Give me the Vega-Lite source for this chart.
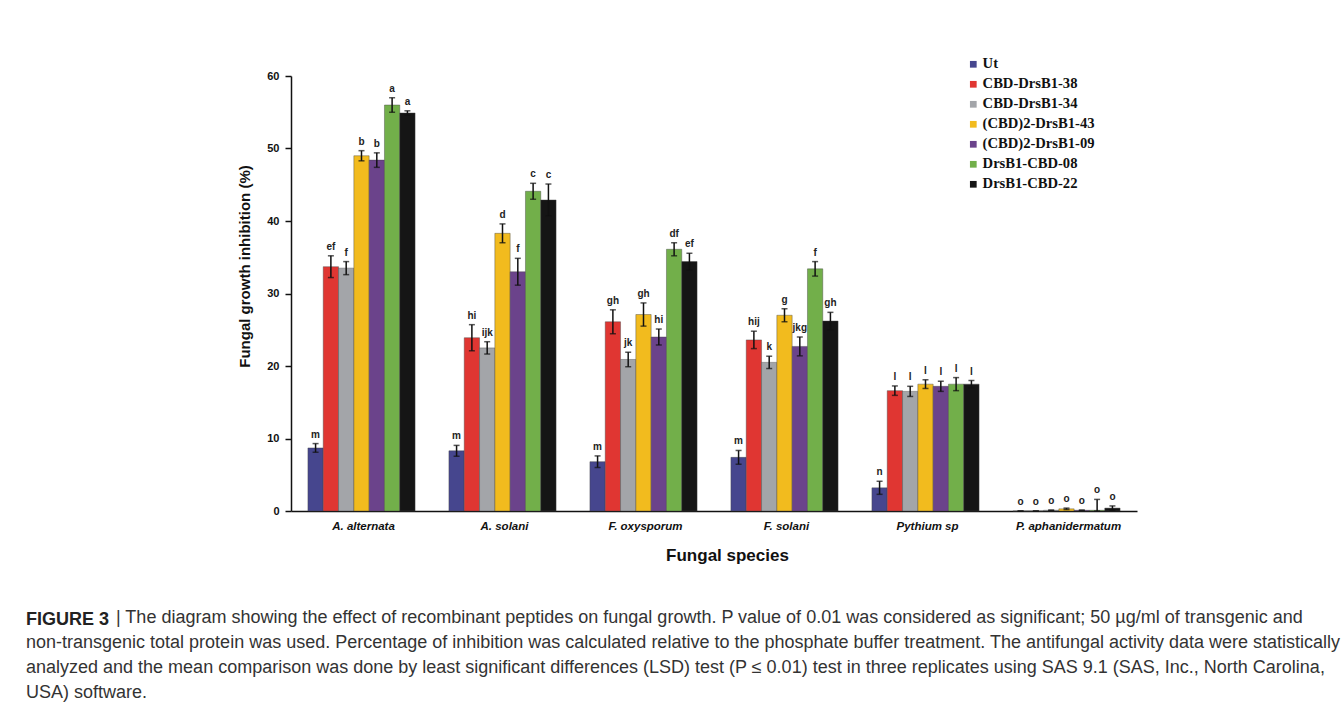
{
  "$schema": "https://vega.github.io/schema/vega-lite/v6.json",
  "width": 846,
  "height": 435,
  "autosize": {"type": "none"},
  "padding": {"left": 291, "top": 76, "right": 205, "bottom": 194},
  "background": "white",
  "title": {
    "text": "FIGURE 3",
    "subtitle": [
      "\u200b\u00a0\u00a0\u00a0\u00a0\u00a0\u00a0\u00a0\u00a0\u00a0\u00a0\u00a0\u00a0\u00a0\u00a0\u00a0\u00a0\u00a0\u00a0| The diagram showing the effect of recombinant peptides on fungal growth. P value of 0.01 was considered as significant; 50 µg/ml of transgenic and",
      "non-transgenic total protein was used. Percentage of inhibition was calculated relative to the phosphate buffer treatment. The antifungal activity data were statistically",
      "analyzed and the mean comparison was done by least significant differences (LSD) test (P ≤ 0.01) test in three replicates using SAS 9.1 (SAS, Inc., North Carolina,",
      "USA) software."
    ],
    "orient": "bottom",
    "anchor": "start",
    "frame": "group",
    "dx": -265,
    "offset": 47,
    "font": "Liberation Sans",
    "fontSize": 18,
    "fontWeight": "bold",
    "color": "#222222",
    "subtitleFont": "Liberation Sans",
    "subtitleFontSize": 18,
    "subtitleFontWeight": "normal",
    "subtitleColor": "#333333",
    "subtitleLineHeight": 25,
    "subtitlePadding": -20
  },
  "data": {
    "values": [
      {"species": "A. alternata", "treatment": "Ut", "mean": 8.7, "lo": 8.1, "hi": 9.3, "letter": "m"},
      {"species": "A. alternata", "treatment": "CBD-DrsB1-38", "mean": 33.7, "lo": 32.2, "hi": 35.2, "letter": "ef"},
      {"species": "A. alternata", "treatment": "CBD-DrsB1-34", "mean": 33.5, "lo": 32.6, "hi": 34.4, "letter": "f"},
      {"species": "A. alternata", "treatment": "(CBD)2-DrsB1-43", "mean": 49.0, "lo": 48.3, "hi": 49.7, "letter": "b"},
      {"species": "A. alternata", "treatment": "(CBD)2-DrsB1-09", "mean": 48.4, "lo": 47.4, "hi": 49.4, "letter": "b"},
      {"species": "A. alternata", "treatment": "DrsB1-CBD-08", "mean": 56.0, "lo": 55.0, "hi": 57.0, "letter": "a"},
      {"species": "A. alternata", "treatment": "DrsB1-CBD-22", "mean": 54.9, "lo": 54.6, "hi": 55.2, "letter": "a"},
      {"species": "A. solani", "treatment": "Ut", "mean": 8.3, "lo": 7.55, "hi": 9.05, "letter": "m"},
      {"species": "A. solani", "treatment": "CBD-DrsB1-38", "mean": 23.9, "lo": 22.1, "hi": 25.7, "letter": "hi"},
      {"species": "A. solani", "treatment": "CBD-DrsB1-34", "mean": 22.5, "lo": 21.65, "hi": 23.35, "letter": "ijk"},
      {"species": "A. solani", "treatment": "(CBD)2-DrsB1-43", "mean": 38.3, "lo": 37.0, "hi": 39.6, "letter": "d"},
      {"species": "A. solani", "treatment": "(CBD)2-DrsB1-09", "mean": 33.0, "lo": 31.15, "hi": 34.85, "letter": "f"},
      {"species": "A. solani", "treatment": "DrsB1-CBD-08", "mean": 44.1, "lo": 43.0, "hi": 45.2, "letter": "c"},
      {"species": "A. solani", "treatment": "DrsB1-CBD-22", "mean": 42.9, "lo": 40.7, "hi": 45.1, "letter": "c"},
      {"species": "F. oxysporum", "treatment": "Ut", "mean": 6.8, "lo": 6.0, "hi": 7.6, "letter": "m"},
      {"species": "F. oxysporum", "treatment": "CBD-DrsB1-38", "mean": 26.1, "lo": 24.45, "hi": 27.75, "letter": "gh"},
      {"species": "F. oxysporum", "treatment": "CBD-DrsB1-34", "mean": 20.9, "lo": 19.9, "hi": 21.9, "letter": "jk"},
      {"species": "F. oxysporum", "treatment": "(CBD)2-DrsB1-43", "mean": 27.1, "lo": 25.5, "hi": 28.7, "letter": "gh"},
      {"species": "F. oxysporum", "treatment": "(CBD)2-DrsB1-09", "mean": 24.0, "lo": 22.9, "hi": 25.1, "letter": "hi"},
      {"species": "F. oxysporum", "treatment": "DrsB1-CBD-08", "mean": 36.1, "lo": 35.2, "hi": 37.0, "letter": "df"},
      {"species": "F. oxysporum", "treatment": "DrsB1-CBD-22", "mean": 34.4, "lo": 33.25, "hi": 35.55, "letter": "ef"},
      {"species": "F. solani", "treatment": "Ut", "mean": 7.4, "lo": 6.45, "hi": 8.35, "letter": "m"},
      {"species": "F. solani", "treatment": "CBD-DrsB1-38", "mean": 23.6, "lo": 22.4, "hi": 24.8, "letter": "hij"},
      {"species": "F. solani", "treatment": "CBD-DrsB1-34", "mean": 20.5, "lo": 19.65, "hi": 21.35, "letter": "k"},
      {"species": "F. solani", "treatment": "(CBD)2-DrsB1-43", "mean": 27.0, "lo": 26.1, "hi": 27.9, "letter": "g"},
      {"species": "F. solani", "treatment": "(CBD)2-DrsB1-09", "mean": 22.7, "lo": 21.4, "hi": 24.0, "letter": "jkg"},
      {"species": "F. solani", "treatment": "DrsB1-CBD-08", "mean": 33.4, "lo": 32.4, "hi": 34.4, "letter": "f"},
      {"species": "F. solani", "treatment": "DrsB1-CBD-22", "mean": 26.2, "lo": 25.0, "hi": 27.4, "letter": "gh"},
      {"species": "Pythium sp", "treatment": "Ut", "mean": 3.2, "lo": 2.3, "hi": 4.1, "letter": "n"},
      {"species": "Pythium sp", "treatment": "CBD-DrsB1-38", "mean": 16.6, "lo": 15.95, "hi": 17.25, "letter": "l"},
      {"species": "Pythium sp", "treatment": "CBD-DrsB1-34", "mean": 16.5, "lo": 15.8, "hi": 17.2, "letter": "l"},
      {"species": "Pythium sp", "treatment": "(CBD)2-DrsB1-43", "mean": 17.5, "lo": 16.9, "hi": 18.1, "letter": "l"},
      {"species": "Pythium sp", "treatment": "(CBD)2-DrsB1-09", "mean": 17.2, "lo": 16.5, "hi": 17.9, "letter": "l"},
      {"species": "Pythium sp", "treatment": "DrsB1-CBD-08", "mean": 17.5, "lo": 16.6, "hi": 18.4, "letter": "l"},
      {"species": "Pythium sp", "treatment": "DrsB1-CBD-22", "mean": 17.5, "lo": 17.0, "hi": 18.0, "letter": "l"},
      {"species": "P. aphanidermatum", "treatment": "Ut", "mean": 0, "lo": 0, "hi": 0, "letter": "o"},
      {"species": "P. aphanidermatum", "treatment": "CBD-DrsB1-38", "mean": 0, "lo": 0, "hi": 0, "letter": "o"},
      {"species": "P. aphanidermatum", "treatment": "CBD-DrsB1-34", "mean": 0.1, "lo": 0.1, "hi": 0.1, "letter": "o"},
      {"species": "P. aphanidermatum", "treatment": "(CBD)2-DrsB1-43", "mean": 0.3, "lo": 0.2, "hi": 0.4, "letter": "o"},
      {"species": "P. aphanidermatum", "treatment": "(CBD)2-DrsB1-09", "mean": 0.1, "lo": 0.1, "hi": 0.1, "letter": "o"},
      {"species": "P. aphanidermatum", "treatment": "DrsB1-CBD-08", "mean": 0.1, "lo": 0, "hi": 1.6, "letter": "o"},
      {"species": "P. aphanidermatum", "treatment": "DrsB1-CBD-22", "mean": 0.4, "lo": 0.1, "hi": 0.7, "letter": "o"}
    ]
  },
  "encoding": {
    "x": {
      "field": "species",
      "type": "nominal",
      "sort": null,
      "scale": {"paddingInner": 0.24, "paddingOuter": 0.12},
      "axis": {
        "title": "Fungal species",
        "labelAngle": 0,
        "labelFontStyle": "italic",
        "labelFontWeight": "bold",
        "labelFont": "Liberation Sans",
        "labelFontSize": 11.5,
        "labelColor": "#111111",
        "labelPadding": 9,
        "labelOffset": 2,
        "ticks": false,
        "domainColor": "#111111",
        "domainWidth": 1.5,
        "titleFont": "Liberation Sans",
        "titleFontSize": 17,
        "titleFontWeight": "bold",
        "titleColor": "#111111",
        "titlePadding": 16,
        "titleX": 436
      }
    },
    "xOffset": {
      "field": "treatment",
      "type": "nominal",
      "scale": {
        "domain": ["Ut", "CBD-DrsB1-38", "CBD-DrsB1-34", "(CBD)2-DrsB1-43", "(CBD)2-DrsB1-09", "DrsB1-CBD-08", "DrsB1-CBD-22"],
        "paddingInner": 0,
        "paddingOuter": 0
      }
    }
  },
  "layer": [
    {
      "mark": {"type": "bar", "stroke": "#444444", "strokeWidth": 0.6, "strokeOpacity": 0.7},
      "encoding": {
        "y": {
          "field": "mean",
          "type": "quantitative",
          "scale": {"domain": [0, 60], "nice": false},
          "axis": {
            "title": "Fungal growth inhibition (%)",
            "values": [0, 10, 20, 30, 40, 50, 60],
            "grid": false,
            "labelFont": "Liberation Sans",
            "labelFontWeight": "bold",
            "labelFontSize": 11,
            "labelColor": "#111111",
            "labelPadding": 6,
            "tickColor": "#111111",
            "tickSize": 6,
            "tickWidth": 1.5,
            "domainColor": "#111111",
            "domainWidth": 1.5,
            "titleFont": "Liberation Sans",
            "titleFontSize": 15,
            "titleFontWeight": "bold",
            "titleColor": "#111111",
            "titlePadding": 14,
            "titleY": 190
          }
        },
        "color": {
          "field": "treatment",
          "type": "nominal",
          "scale": {
            "domain": ["Ut", "CBD-DrsB1-38", "CBD-DrsB1-34", "(CBD)2-DrsB1-43", "(CBD)2-DrsB1-09", "DrsB1-CBD-08", "DrsB1-CBD-22"],
            "range": ["#46468e", "#e03632", "#a3a5a9", "#f2bb1e", "#6b438b", "#72af4a", "#151515"]
          },
          "legend": {
            "title": null,
            "orient": "none",
            "legendX": 675,
            "legendY": -19,
            "direction": "vertical",
            "symbolType": "square",
            "symbolSize": 45,
            "symbolStrokeWidth": 0,
            "labelFont": "Liberation Serif",
            "labelFontWeight": "bold",
            "labelFontSize": 14.6,
            "labelColor": "#111111",
            "labelOffset": 2,
            "rowPadding": 5
          }
        }
      }
    },
    {
      "mark": {"type": "rule", "color": "#111111", "strokeWidth": 1.5},
      "encoding": {
        "y": {"field": "lo", "type": "quantitative"},
        "y2": {"field": "hi"}
      }
    },
    {
      "mark": {"type": "tick", "color": "#111111", "thickness": 1.5, "size": 6},
      "encoding": {"y": {"field": "hi", "type": "quantitative"}}
    },
    {
      "mark": {"type": "tick", "color": "#111111", "thickness": 1.5, "size": 6},
      "encoding": {"y": {"field": "lo", "type": "quantitative"}}
    },
    {
      "mark": {"type": "text", "baseline": "bottom", "dy": -4, "font": "Liberation Sans", "fontWeight": "bold", "fontSize": 10, "color": "#222222"},
      "encoding": {
        "y": {"field": "hi", "type": "quantitative"},
        "text": {"field": "letter"}
      }
    }
  ],
  "config": {
    "view": {"stroke": null}
  }
}
